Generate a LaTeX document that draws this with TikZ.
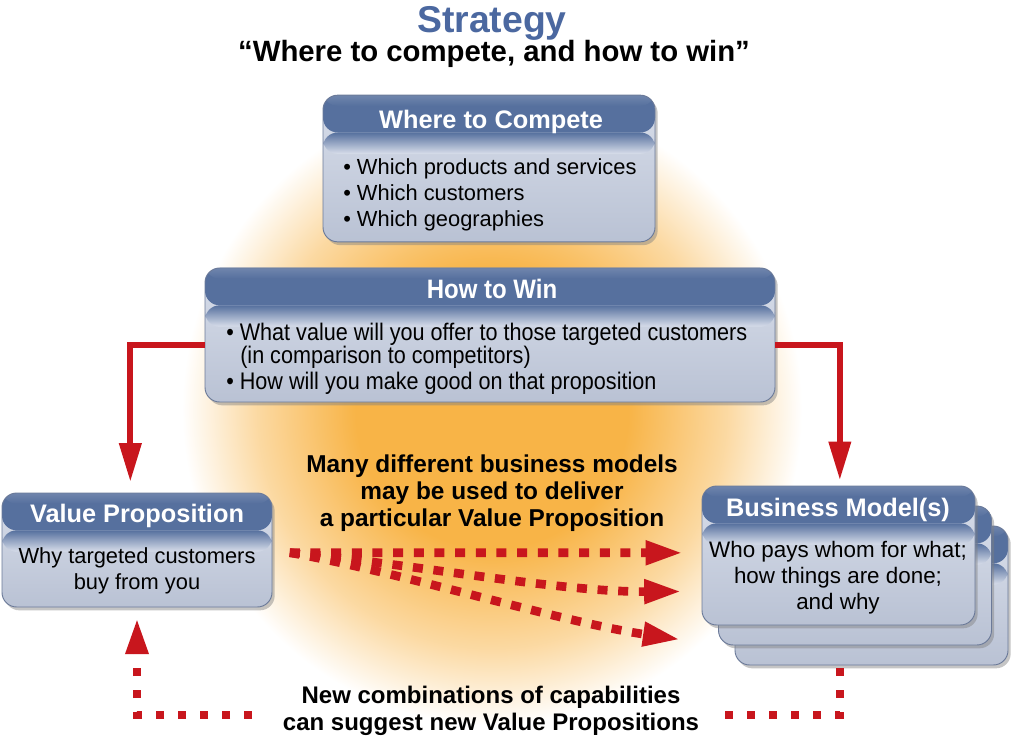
\documentclass[tikz,border=0pt]{standalone}
\usepackage{fontspec}
\setmainfont{Liberation Sans}
\newfontfamily\narrowfont{Liberation Sans}[FakeStretch=0.9]
\usetikzlibrary{shadows,arrows.meta,positioning}
\definecolor{hdrblue}{HTML}{56709E}
\definecolor{bodyblue}{HTML}{C3CCDF}
\definecolor{edgeblue}{HTML}{6B7A99}
\definecolor{titleblue}{HTML}{4B68A0}
\definecolor{glow}{HTML}{F8B447}
\definecolor{arrowred}{HTML}{C8161D}
\pgfdeclareradialshading{glowshade}{\pgfpoint{0bp}{0bp}}{color(0bp)=(glow);color(11bp)=(glow);color(19bp)=(glow!50!white);color(25bp)=(white);color(50bp)=(white)}

\begin{document}
\begin{tikzpicture}[x=0.75pt,y=-0.75pt,
  box/.style={draw=edgeblue, line width=0.7pt, rounded corners=11pt, inner sep=0pt,
    top color=bodyblue!65!white, bottom color=bodyblue!95!black,
    drop shadow={shadow xshift=2pt, shadow yshift=-2.5pt, opacity=0.45},
    path picture={
      \fill[hdrblue] (path picture bounding box.north west) rectangle ([yshift=-28pt]path picture bounding box.north east);
      \shade[top color=hdrblue!85!white, bottom color=hdrblue] (path picture bounding box.north west) rectangle ([yshift=-8pt]path picture bounding box.north east);
      \shade[top color=hdrblue, bottom color=bodyblue!65!white] ([yshift=-28pt]path picture bounding box.north west) rectangle ([yshift=-44pt]path picture bounding box.north east);}},
  head/.style={font=\bfseries\fontsize{19}{22}\selectfont, text=white, inner sep=0pt},
  body/.style={font=\fontsize{16.4}{19.5}\selectfont, inner sep=0pt},
  note/.style={font=\bfseries\fontsize{18.3}{20}\selectfont, align=center, inner sep=0pt},
  solidred/.style={draw=arrowred, line width=4.5pt, -{Triangle[length=29pt,width=16pt]}},
  fanred/.style={draw=arrowred, line width=6.5pt, dash pattern=on 7.5pt off 8pt, -{Triangle[length=28pt,width=17pt]}},
  dotred/.style={draw=arrowred, line width=6pt, dash pattern=on 6pt off 10.5pt}]

  \fill[white] (0,0) rectangle (1024,745);
  \useasboundingbox (0,0) rectangle (1024,745);
  \shade[shading=glowshade] (492,410) ellipse (310 and 315);

  % title
  \node[font=\bfseries\fontsize{28}{30}\selectfont, text=titleblue, anchor=base] (title) at (492,33) {Strategy};
  \node[font=\bfseries\fontsize{22}{24}\selectfont, anchor=base] (subtitle) at (494,62) {“Where to compete, and how to win”};

  % boxes
  \node[box, minimum width=249pt, minimum height=110pt] (where) at (489,168.5) {};
  \node[box, minimum width=427.5pt, minimum height=100.5pt] (win) at (490,335) {};
  \node[box, minimum width=202.5pt, minimum height=85.5pt] (vp) at (137,550) {};
  \node[box, minimum width=204.75pt, minimum height=104.25pt] (bmc) at (871.5,595.5) {};
  \node[box, minimum width=204.75pt, minimum height=104.25pt] (bmb) at (855,575.5) {};
  \node[box, minimum width=204.75pt, minimum height=104.25pt] (bm) at (838.5,555.5) {};

  \node[head, anchor=base] (whereHead) at (491,129) {Where to Compete};
  \node[body, anchor=north west, align=left] (whereList) at (343,158) {• Which products and services\\• Which customers\\• Which geographies};

  \node[head, font=\narrowfont\bfseries\fontsize{20}{22}\selectfont, anchor=base] (winHead) at (492,298) {How to Win};
  \node[body, font=\narrowfont\fontsize{18}{17.5}\selectfont, anchor=north west, align=left] (winList) at (226,323)
    {• What value will you offer to those targeted customers\\\hspace*{10.5pt}(in comparison to competitors)\\[2pt]• How will you make good on that proposition};

  \node[head, anchor=base] (vpHead) at (137,522) {Value Proposition};
  \node[body, align=center, anchor=north] (vpText) at (137,547) {Why targeted customers\\buy from you};

  \node[head, anchor=base] (bmHead) at (838,516) {Business Model(s)};
  \node[body, font=\fontsize{16.8}{19.5}\selectfont, align=center, anchor=north] (bmText) at (838,541) {Who pays whom for what;\\how things are done;\\and why};

  % notes
  \node[note, anchor=north] (manyText) at (492,455) {Many different business models\\may be used to deliver\\a particular Value Proposition};
  \node[note, font=\bfseries\fontsize{18}{20}\selectfont, anchor=north] (newText) at (491,686) {New combinations of capabilities\\can suggest new Value Propositions};

  % arrows
  \draw[solidred, shorten >=8pt] ([yshift=-7.5pt]win.west) -| ([xshift=-5pt]vp.north);
  \draw[solidred, shorten >=4pt] ([yshift=-7.5pt]win.east) -| ([xshift=1pt]bm.north);

  \draw[fanred] ([xshift=13pt,yshift=-2pt]vp.east) -- ([xshift=-14pt,yshift=2pt]bm.west);
  \draw[fanred] ([xshift=13pt,yshift=-2pt]vp.east) .. controls (420,565) and (560,592) .. ([xshift=-15pt,yshift=-27pt]bm.west);
  \draw[fanred] ([xshift=13pt,yshift=-2pt]vp.east) .. controls (400,572) and (560,622) .. ([xshift=-16pt,yshift=-63pt]bm.west);

  \coordinate (fbL) at (252,715);
  \coordinate (fbR) at (725,715);
  \draw[dotred, -{Triangle[length=27pt,width=16pt]}, shorten >=8pt] (fbL) -| (vp.south);
  \draw[dotred] ([xshift=-23.6pt,yshift=-2pt]bmc.south) |- (fbR);
\end{tikzpicture}
\end{document}
